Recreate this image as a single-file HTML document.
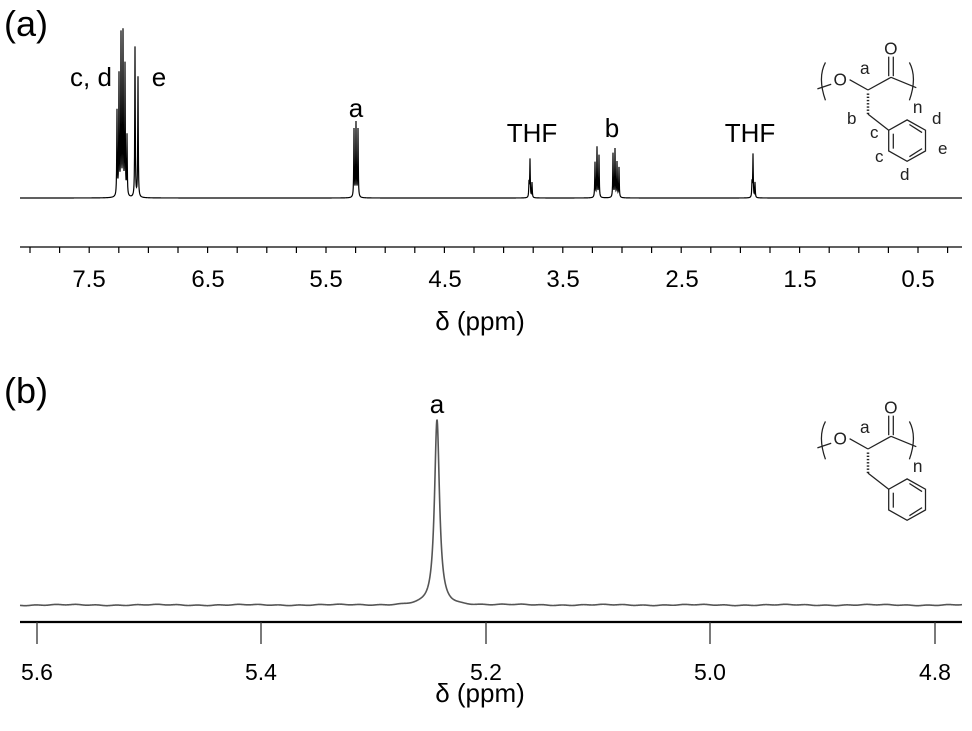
<!DOCTYPE html>
<html><head><meta charset="utf-8"><style>
html,body{margin:0;padding:0;background:#fff;}
svg{display:block;font-family:"Liberation Sans",Arial,sans-serif;}
</style></head><body>
<svg id="s" width="972" height="731" viewBox="0 0 972 731">
<g id="top" fill="none" stroke="#000" stroke-width="1.2"></g>
<g id="bot" fill="none" stroke="#555" stroke-width="1.6"></g>
<line x1="20" y1="247" x2="962" y2="247" stroke="#000" stroke-width="1.3"/>
<g id="tt" stroke="#000" stroke-width="1.2"></g>
<g font-size="24" text-anchor="middle" fill="#000">
<text x="89" y="287">7.5</text><text x="208" y="287">6.5</text><text x="326" y="287">5.5</text>
<text x="445" y="287">4.5</text><text x="563" y="287">3.5</text><text x="682" y="287">2.5</text>
<text x="800" y="287">1.5</text><text x="918" y="287">0.5</text>
<text x="480" y="330" font-size="26">δ (ppm)</text>
<text x="91" y="86" font-size="26">c, d</text><text x="159" y="86" font-size="26">e</text>
<text x="356" y="117" font-size="26">a</text>
<text x="532" y="142" font-size="26">THF</text><text x="612" y="137" font-size="26">b</text>
<text x="750" y="142" font-size="26">THF</text>
<text x="437" y="413" font-size="26">a</text>
<text x="480" y="702" font-size="26">δ (ppm)</text>
<g font-size="23">
<text x="37" y="680">5.6</text><text x="261" y="680">5.4</text><text x="486" y="680">5.2</text>
<text x="710" y="680">5.0</text><text x="935" y="680">4.8</text></g>
</g>
<text x="4" y="36" font-size="36">(a)</text>
<text x="4" y="403" font-size="36">(b)</text>
<line x1="20" y1="622" x2="962" y2="622" stroke="#000" stroke-width="2.2"/>
<g stroke="#333" stroke-width="1.3">
<line x1="37" y1="622" x2="37" y2="644"/><line x1="261" y1="622" x2="261" y2="644"/>
<line x1="486" y1="622" x2="486" y2="644"/><line x1="710" y1="622" x2="710" y2="644"/>
<line x1="935" y1="622" x2="935" y2="644"/>
</g>
<g id="mol" transform="translate(868,449) scale(1.15) translate(-868,-449)">
<g fill="none" stroke="#222" stroke-width="1.1">
<path d="M831,425 Q824,438 831,458"/><path d="M904,425 Q911,438 904,458"/>
<line x1="824" y1="448" x2="836" y2="444"/>
<line x1="852" y1="440" x2="868" y2="449"/><line x1="868" y1="449" x2="888" y2="438"/>
<line x1="888" y1="438" x2="910" y2="447"/>
<line x1="886" y1="420" x2="886" y2="437"/><line x1="890" y1="420" x2="890" y2="437"/>
<path d="M868,452 l0,18" stroke-dasharray="1.2 1.6" stroke-width="2.2"/>
<line x1="868" y1="470" x2="886" y2="484"/>
<polygon points="886,484 902,475 918,484 918,502 902,511 886,502"/>
<line x1="890" y1="487" x2="890" y2="500"/><line x1="904" y1="507" x2="915" y2="500"/><line x1="904" y1="479" x2="915" y2="486"/>
</g>
<g font-size="15" fill="#222"><text x="838" y="445">O</text><text x="882" y="418">O</text><text x="861" y="435">a</text><text x="907" y="469">n</text></g>
</g>
<use href="#mol" transform="translate(0,-359)"/>
<g font-size="17" fill="#222"><text x="847" y="124">b</text><text x="870" y="138">c</text><text x="932" y="124">d</text><text x="938" y="154">e</text><text x="875" y="162">c</text><text x="900" y="180">d</text></g>
</svg>
<script>
var tt=document.getElementById('tt'),ns='http://www.w3.org/2000/svg';
for(var i=0;i<32;i++){var x=30+i*29.6;if(x>962)break;var l=document.createElementNS(ns,'line');l.setAttribute('x1',x);l.setAttribute('x2',x);l.setAttribute('y1',247);l.setAttribute('y2',253);tt.appendChild(l);}
function path(g,base,x0,x1,peaks,noise){var d='';for(var x=x0;x<=x1;x+=0.25){var y=base;for(var k=0;k<peaks.length;k++){var p=peaks[k],u=(x-p[0])/p[2];y-=p[1]/(1+u*u);}if(noise)y+=Math.sin(x*0.31)*0.3+Math.sin(x*0.07)*0.4;d+=(d?'L':'M')+x.toFixed(2)+','+y.toFixed(2);}var e=document.createElementNS(ns,'path');e.setAttribute('d',d);g.appendChild(e);}
var B=198;
path(document.getElementById('top'),B,20,962,[
[117,85,0.3],[119,120,0.3],[121,160,0.3],[123,162,0.3],[125,130,0.3],[127,60,0.3],
[135,150,0.3],[138,120,0.3],
[354,68,0.3],[356,74,0.3],[358,68,0.3],
[529,15,0.3],[530,38,0.3],[532,15,0.3],
[595,35,0.3],[597,50,0.3],[599,42,0.3],[613,44,0.3],[615,48,0.3],[617,35,0.3],[619,30,0.3],
[752,15,0.3],[753,43,0.3],[755,15,0.3]]);
path(document.getElementById('bot'),605,20,962,[[437,185,3.0]],true);
</script>
</body></html>
